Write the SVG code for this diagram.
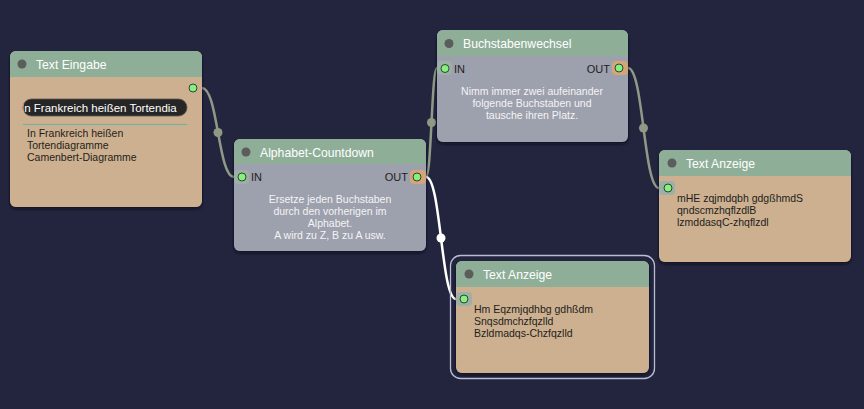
<svg xmlns="http://www.w3.org/2000/svg" width="864" height="409" viewBox="0 0 864 409">
<defs>
<filter id="sh" x="-10%" y="-10%" width="120%" height="130%">
<feDropShadow dx="0" dy="2" stdDeviation="1.5" flood-color="#0a0b1e" flood-opacity="0.9"/>
</filter>
<style>
text{font-family:"Liberation Sans",Arial,sans-serif}
.hdr{fill:#8eae98}
.tan{fill:#cdb08f}
.gray{fill:#9da0ad}
.title{fill:#ffffff;font-size:12.2px}
.dot{fill:#5c5c5c}
.port{fill:#84f27c;stroke:#34423a;stroke-width:1}
.lbl{fill:#1e1e1e;font-size:10.5px}
.desc{fill:#f4f4f4;font-size:10.5px;text-anchor:middle}
.io{fill:#1e1e1e;font-size:11px}
.wire{fill:none;stroke:#8e9a86;stroke-width:2.5}
.wdot{fill:#8e9a86}
.pin{fill:#9cb0a6}
.pout{fill:#d4a677}
</style>
</defs>
<rect width="864" height="409" fill="#23253f"/>

<g id="connectors">
<path class="wire" d="M202,88 C218,88 218,177 234,177"/>
<circle class="wdot" cx="218" cy="132.5" r="4.5"/>
<path class="wire" d="M426,177 C431.5,177 431.5,68 437,68"/>
<circle class="wdot" cx="431.5" cy="122.5" r="4.5"/>
<path class="wire" d="M628,68 C643.5,68 643.5,188 659,188"/>
<circle class="wdot" cx="643.5" cy="128" r="4.5"/>
<path d="M426,177 C441,177 441,299 456,299" fill="none" stroke="#ffffff" stroke-width="2.5"/>
<circle cx="441" cy="238" r="4.5" fill="#ffffff"/>
</g>

<g id="text-eingabe">
<g filter="url(#sh)">
<path class="tan" d="M16,51 H196 A6,6 0 0 1 202,57 V201 A6,6 0 0 1 196,207 H16 A6,6 0 0 1 10,201 V57 A6,6 0 0 1 16,51 Z"/>
</g>
<path class="hdr" d="M16,51 H196 A6,6 0 0 1 202,57 V77 H10 V57 A6,6 0 0 1 16,51 Z"/>
<circle class="dot" cx="22" cy="64" r="4.5"/>
<text class="title" x="36" y="68.5">Text Eingabe</text>
<circle class="port" cx="193" cy="88" r="4"/>
<rect x="23" y="99" width="164" height="17" rx="8.5" fill="#262626" stroke="#555" stroke-width="0.8"/>
<svg x="23" y="99" width="164" height="17">
<text x="-2" y="12.5" fill="#ffffff" font-size="11.5px">In Frankreich heißen Tortendia</text>
</svg>
<line x1="23" y1="124.5" x2="187" y2="124.5" stroke="#6fb0a6" stroke-width="1"/>
<text class="lbl" x="27" y="136.5">In Frankreich heißen</text>
<text class="lbl" x="27" y="148.5">Tortendiagramme</text>
<text class="lbl" x="27" y="160.5">Camenbert-Diagramme</text>
</g>

<g id="alphabet-countdown">
<g filter="url(#sh)">
<path class="gray" d="M240,139 H420 A6,6 0 0 1 426,145 V245 A6,6 0 0 1 420,251 H240 A6,6 0 0 1 234,245 V145 A6,6 0 0 1 240,139 Z"/>
</g>
<path class="hdr" d="M240,139 H420 A6,6 0 0 1 426,145 V164 H234 V145 A6,6 0 0 1 240,139 Z"/>
<circle class="dot" cx="246" cy="152" r="4.5"/>
<text class="title" x="260" y="156.5">Alphabet-Countdown</text>
<rect class="pin" x="234" y="170" width="15" height="14" rx="4"/>
<circle class="port" cx="242" cy="177" r="4"/>
<text class="io" x="251" y="181">IN</text>
<rect class="pout" x="410" y="170" width="16" height="14" rx="4"/>
<circle class="port" cx="417" cy="177" r="4"/>
<text class="io" x="408" y="181" text-anchor="end">OUT</text>
<text class="desc" x="330" y="203">Ersetze jeden Buchstaben</text>
<text class="desc" x="330" y="215">durch den vorherigen im</text>
<text class="desc" x="330" y="227">Alphabet.</text>
<text class="desc" x="330" y="239">A wird zu Z, B zu A usw.</text>
</g>

<g id="buchstabenwechsel">
<g filter="url(#sh)">
<path class="gray" d="M443,30 H622 A6,6 0 0 1 628,36 V136 A6,6 0 0 1 622,142 H443 A6,6 0 0 1 437,136 V36 A6,6 0 0 1 443,30 Z"/>
</g>
<path class="hdr" d="M443,30 H622 A6,6 0 0 1 628,36 V56 H437 V36 A6,6 0 0 1 443,30 Z"/>
<circle class="dot" cx="449" cy="43.5" r="4.5"/>
<text class="title" x="463" y="48">Buchstabenwechsel</text>
<rect class="pin" x="437" y="61" width="15" height="14" rx="4"/>
<circle class="port" cx="445" cy="68.5" r="4"/>
<text class="io" x="454" y="72.5">IN</text>
<rect class="pout" x="612" y="61" width="16" height="14" rx="4"/>
<circle class="port" cx="619" cy="68" r="4"/>
<text class="io" x="610" y="72.5" text-anchor="end">OUT</text>
<text class="desc" x="532" y="94.5">Nimm immer zwei aufeinander</text>
<text class="desc" x="532" y="106.5">folgende Buchstaben und</text>
<text class="desc" x="532" y="118.5">tausche ihren Platz.</text>
</g>

<g id="text-anzeige-1">
<g filter="url(#sh)">
<path class="tan" d="M665,150 H845 A6,6 0 0 1 851,156 V256 A6,6 0 0 1 845,262 H665 A6,6 0 0 1 659,256 V156 A6,6 0 0 1 665,150 Z"/>
</g>
<path class="hdr" d="M665,150 H845 A6,6 0 0 1 851,156 V176 H659 V156 A6,6 0 0 1 665,150 Z"/>
<circle class="dot" cx="672" cy="163" r="4.5"/>
<text class="title" x="686" y="167.5">Text Anzeige</text>
<rect class="pin" x="659" y="181" width="16" height="14" rx="4"/>
<circle class="port" cx="668" cy="188" r="4"/>
<text class="lbl" x="677" y="201.5">mHE zqjmdqbh gdgßhmdS</text>
<text class="lbl" x="677" y="213.5">qndscmzhqflzdlB</text>
<text class="lbl" x="677" y="225.5">lzmddasqC-zhqflzdl</text>
</g>

<g id="text-anzeige-2">
<rect x="450.5" y="255.5" width="204" height="123" rx="10" fill="none" stroke="#b9bdd0" stroke-width="1.3"/>
<g filter="url(#sh)">
<path class="tan" d="M462,261 H643 A6,6 0 0 1 649,267 V367 A6,6 0 0 1 643,373 H462 A6,6 0 0 1 456,367 V267 A6,6 0 0 1 462,261 Z"/>
</g>
<path class="hdr" d="M462,261 H643 A6,6 0 0 1 649,267 V287 H456 V267 A6,6 0 0 1 462,261 Z"/>
<circle class="dot" cx="469" cy="274" r="4.5"/>
<text class="title" x="483" y="278.5">Text Anzeige</text>
<rect class="pin" x="456" y="292" width="16" height="14" rx="4"/>
<circle class="port" cx="464" cy="299" r="4"/>
<text class="lbl" x="474" y="312.5">Hm Eqzmjqdhbg gdhßdm</text>
<text class="lbl" x="474" y="324.5">Snqsdmchzfqzlld</text>
<text class="lbl" x="474" y="336.5">Bzldmadqs-Chzfqzlld</text>
</g>
</svg>
